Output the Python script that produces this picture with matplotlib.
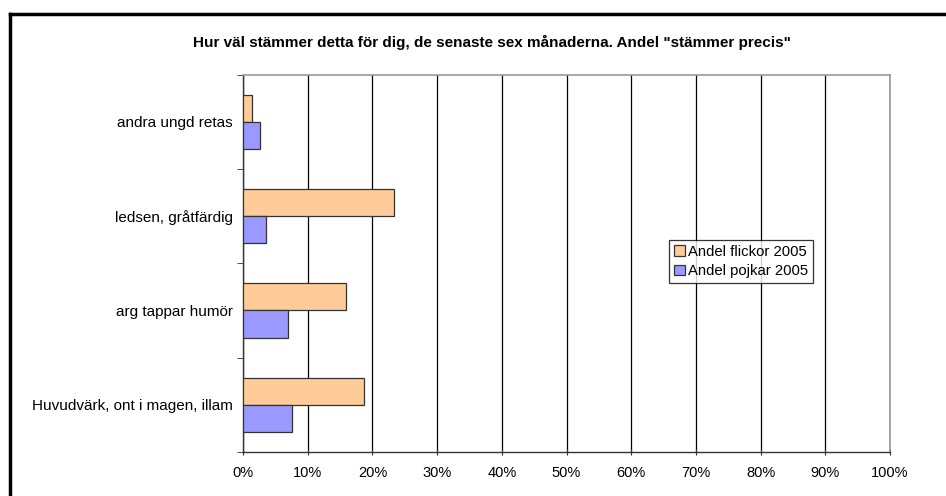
import numpy as np
import matplotlib.pyplot as plt
from matplotlib.lines import Line2D

plt.rcParams['font.family'] = ['Liberation Sans', 'DejaVu Sans']

categories = ['Huvudvärk, ont i magen, illam', 'arg tappar humör',
              'ledsen, gråtfärdig', 'andra ungd retas']
flickor = [18.7, 15.9, 23.4, 1.4]
pojkar = [7.6, 6.9, 3.6, 2.7]
xticks = [0, 10, 20, 30, 40, 50, 60, 70, 80, 90, 100]

fig = plt.figure(figsize=(9.46, 4.96), dpi=100)
ax = fig.add_axes([243 / 946, 1 - 452 / 496, (890 - 243) / 946, (452 - 74.5) / 496])

y = np.arange(len(categories))
h = 0.287
ax.barh(y + h / 2, flickor, height=h, color='#ffcc99', edgecolor='#333333',
        linewidth=0.9, label='Andel flickor 2005', zorder=3)
ax.barh(y - h / 2, pojkar, height=h, color='#9999ff', edgecolor='#333333',
        linewidth=0.9, label='Andel pojkar 2005', zorder=3)

ax.set_xlim(0, 100)
ax.set_ylim(-0.5, len(categories) - 0.5)
ax.set_xticks(xticks)
ax.set_xticklabels([f'{v}%' for v in xticks], fontsize=10.5)
ax.set_yticks(y)
ax.set_yticklabels(categories, fontsize=11)
ax.set_yticks(np.arange(-0.5, len(categories)), minor=True)
ax.tick_params(axis='y', which='major', length=0, pad=7.5)
ax.tick_params(axis='y', which='minor', length=4, direction='out', color='#333333')
ax.tick_params(axis='x', length=4, direction='inout', color='#333333', pad=8)
ax.grid(axis='x', color='black', linewidth=0.9, zorder=0)

for side in ['top', 'right']:
    ax.spines[side].set_color('#999999')
    ax.spines[side].set_linewidth(1.2)
for side in ['left', 'bottom']:
    ax.spines[side].set_color('#333333')
    ax.spines[side].set_linewidth(1.0)

fig.text(492 / 946, 1 - 42 / 496, 'Hur väl stämmer detta för dig, de senaste sex månaderna. Andel "stämmer precis"',
         ha='center', va='center', fontsize=11, fontweight='bold')

leg = ax.legend(loc='center left', bbox_to_anchor=((669 - 243) / (890 - 243), 0.505),
                fontsize=10.7, frameon=True, fancybox=False, edgecolor='black',
                handlelength=0.7, handleheight=0.7, handletextpad=0.2,
                borderpad=0.35, labelspacing=0.35, borderaxespad=0)
leg.get_frame().set_linewidth(0.9)

fig.add_artist(Line2D([10 / 946, 1], [1 - 14 / 496, 1 - 14 / 496], color='black', linewidth=2.5))
fig.add_artist(Line2D([10 / 946, 10 / 946], [0, 1 - 14 / 496], color='black', linewidth=2.5))

fig.savefig('out.png', dpi=100)
